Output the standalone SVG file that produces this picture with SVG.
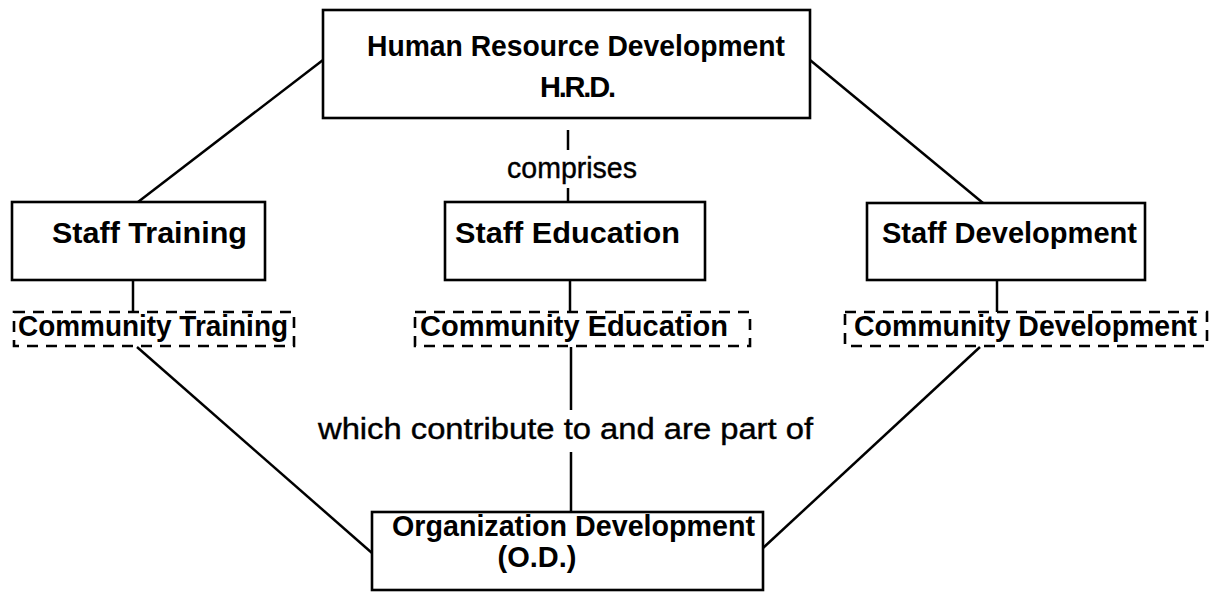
<svg xmlns="http://www.w3.org/2000/svg" width="1220" height="593" viewBox="0 0 1220 593">
<style>
.box{fill:#fff;stroke:#000;stroke-width:2.6}
.dbox{fill:none;stroke:#000;stroke-width:2.6;stroke-dasharray:11 8}
.b{font-family:"Liberation Sans",Arial,sans-serif;font-weight:bold;font-size:29px;fill:#000}
.r{font-family:"Liberation Sans",Arial,sans-serif;font-size:29px;fill:#000;stroke:#000;stroke-width:0.4}
.c line{stroke:#000;stroke-width:2.5}
</style>
<rect width="1220" height="593" fill="#fff"/>
<g class="c" id="connectors">
<line x1="323" y1="60" x2="138" y2="202"/>
<line x1="810" y1="60" x2="983" y2="203"/>
<line x1="568" y1="130" x2="568" y2="150"/>
<line x1="568" y1="188" x2="568" y2="202"/>
<line x1="133" y1="280" x2="133" y2="312"/>
<line x1="570" y1="280" x2="570" y2="312"/>
<line x1="997" y1="280" x2="997" y2="312"/>
<line x1="137" y1="347" x2="372" y2="553"/>
<line x1="980" y1="347" x2="763" y2="548"/>
<line x1="571" y1="347" x2="571" y2="410"/>
<line x1="571" y1="452" x2="571" y2="512"/>
</g>
<g id="hrd">
<rect class="box" x="323" y="10" width="487" height="108"/>
<text class="b" x="576" y="56" text-anchor="middle" textLength="418" lengthAdjust="spacingAndGlyphs">Human Resource Development</text>
<text class="b" x="578" y="97" text-anchor="middle" textLength="76" lengthAdjust="spacing">H.R.D.</text>
</g>
<text class="r" x="507" y="178" textLength="130" lengthAdjust="spacingAndGlyphs">comprises</text>
<g id="staff-training">
<rect class="box" x="12" y="202" width="253" height="78"/>
<text class="b" x="52" y="243" textLength="195" lengthAdjust="spacingAndGlyphs">Staff Training</text>
</g>
<g id="staff-education">
<rect class="box" x="445" y="202" width="260" height="78"/>
<text class="b" x="455" y="243" textLength="225" lengthAdjust="spacingAndGlyphs">Staff Education</text>
</g>
<g id="staff-development">
<rect class="box" x="867" y="203" width="278" height="77"/>
<text class="b" x="882" y="243" textLength="255" lengthAdjust="spacingAndGlyphs">Staff Development</text>
</g>
<g id="community-training">
<rect class="dbox" x="14" y="312" width="280" height="34"/>
<text class="b" x="18" y="336" textLength="270" lengthAdjust="spacingAndGlyphs">Community Training</text>
</g>
<g id="community-education">
<rect class="dbox" x="415" y="312" width="335" height="34"/>
<text class="b" x="420" y="336" textLength="308" lengthAdjust="spacingAndGlyphs">Community Education</text>
</g>
<g id="community-development">
<rect class="dbox" x="845" y="312" width="362" height="34"/>
<text class="b" x="854" y="336" textLength="343" lengthAdjust="spacingAndGlyphs">Community Development</text>
</g>
<text class="r" x="318" y="439" textLength="495" lengthAdjust="spacingAndGlyphs">which contribute to and are part of</text>
<g id="od">
<rect class="box" x="372" y="512" width="391" height="78"/>
<text class="b" x="392" y="536" textLength="363" lengthAdjust="spacingAndGlyphs">Organization Development</text>
<text class="b" x="537" y="567" text-anchor="middle">(O.D.)</text>
</g>
</svg>
